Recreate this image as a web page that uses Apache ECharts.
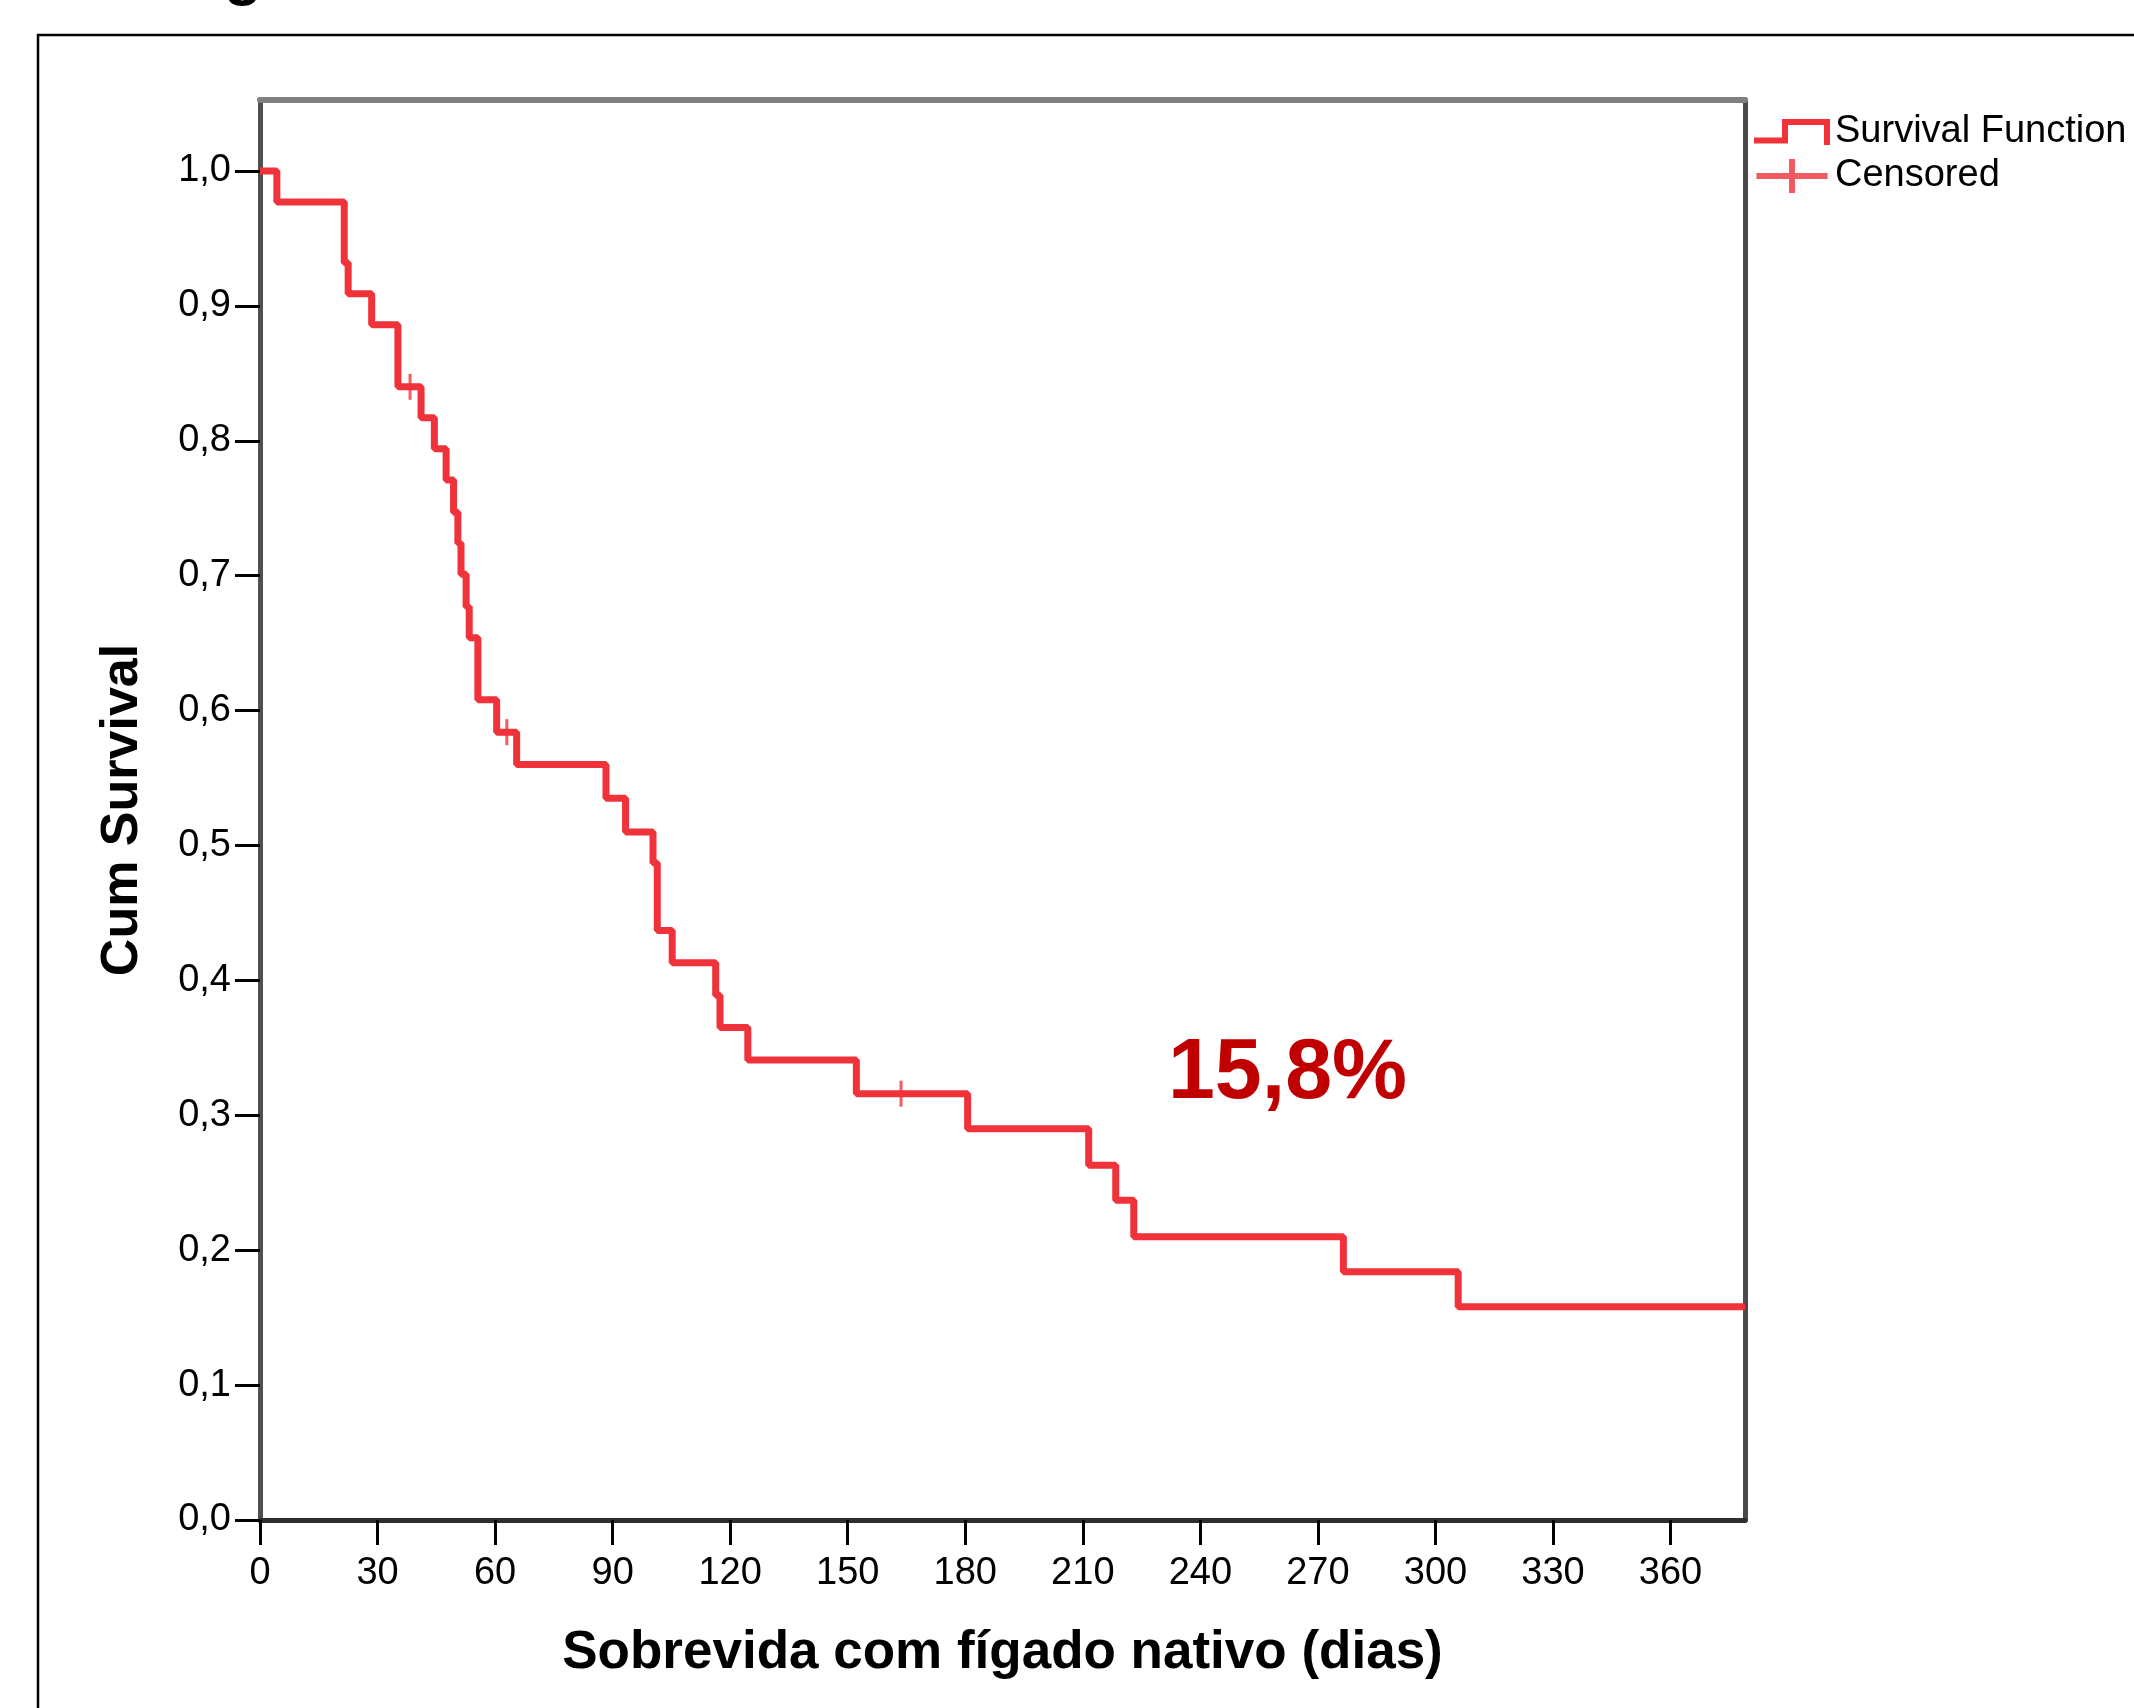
<!DOCTYPE html>
<html>
<head>
<meta charset="utf-8">
<script src="https://cdn.jsdelivr.net/npm/echarts@6/dist/echarts.min.js"></script>
<style>
  html, body { margin: 0; padding: 0; background: #ffffff; }
  #chart { width: 2134px; height: 1708px; }
</style>
</head>
<body>
<div id="chart"></div>
<script>
// ---- Data (Kaplan-Meier step function) ----
const eventDays = [0, 4.3, 21.5, 22.5, 28.5, 35.2, 41.1, 44.5, 47.5, 49.4, 50.5, 51.3, 52.6, 53.4, 55.6, 60.4, 65.5, 88.3, 93.3, 100.3, 101.4, 105.2, 116.3, 117.4, 124.5, 152.2, 180.6, 211.5, 218.4, 223.0, 276.5, 305.8, 379];
const survivalValues = [1.0, 0.977, 0.932, 0.909, 0.886, 0.840, 0.817, 0.794, 0.771, 0.747, 0.724, 0.701, 0.677, 0.654, 0.608, 0.584, 0.560, 0.535, 0.510, 0.487, 0.437, 0.413, 0.389, 0.365, 0.341, 0.316, 0.290, 0.263, 0.237, 0.210, 0.184, 0.158, 0.158];
const censorDays = [38.3, 63.0, 163.6];
const censorValues = [0.840, 0.584, 0.316];

const xTickValues = [0, 30, 60, 90, 120, 150, 180, 210, 240, 270, 300, 330, 360];
const xTickLabels = ['0', '30', '60', '90', '120', '150', '180', '210', '240', '270', '300', '330', '360'];
const yTickValues = [0, 0.1, 0.2, 0.3, 0.4, 0.5, 0.6, 0.7, 0.8, 0.9, 1.0];
const yTickLabels = ['0,0', '0,1', '0,2', '0,3', '0,4', '0,5', '0,6', '0,7', '0,8', '0,9', '1,0'];

const seriesNames = ['Survival Function', 'Censored'];
const annotationText = '15,8%';
const xTitle = 'Sobrevida com fígado nativo (dias)';
const yTitle = 'Cum Survival';

// ---- Chart ----
const FONT = '"Liberation Sans", Arial, sans-serif';
const RED = '#f0323a';
const chart = echarts.init(document.getElementById('chart'), null, { renderer: 'canvas' });

const survivalData = eventDays.map((d, i) => [d, survivalValues[i]]);
const censorData = censorDays.map((d, i) => [d, censorValues[i]]);

function labelFor(values, labels) {
  return function (v) {
    for (let i = 0; i < values.length; i++) {
      if (Math.abs(values[i] - v) < 1e-6) return labels[i];
    }
    return '';
  };
}

chart.setOption({
  animation: false,
  backgroundColor: '#ffffff',
  grid: { left: 260, right: 389, top: 100, bottom: 188, containLabel: false, show: false },
  legend: {
    orient: 'vertical',
    left: 1754,
    top: 110,
    padding: 0,
    itemGap: 0,
    itemWidth: 76,
    itemHeight: 34,
    selectedMode: false,
    textStyle: { fontFamily: FONT, fontSize: 38, color: '#000', lineHeight: 44, padding: [0, 0, 0, 0] },
    data: [
      { name: seriesNames[0], icon: 'path://M0,18.5 H28 V0 H76 V26 H70 V6 H34 V24.5 H0 Z' },
      { name: seriesNames[1], icon: 'path://M0,14 H71 V20 H0 Z M32.5,0 H38.5 V34 H32.5 Z' }
    ]
  },
  xAxis: [
    {
      type: 'value',
      min: 0,
      max: 379,
      position: 'bottom',
      name: xTitle,
      nameLocation: 'middle',
      nameGap: 107,
      nameTextStyle: { fontFamily: FONT, fontSize: 53, fontWeight: 'bold', color: '#000' },
      axisLine: { show: true, onZero: false, lineStyle: { color: '#2e2e2e', width: 5 } },
      axisTick: { show: true, inside: false, length: 25, customValues: xTickValues, lineStyle: { color: '#000', width: 3 } },
      axisLabel: {
        show: true, margin: 35, customValues: xTickValues,
        fontFamily: FONT, fontSize: 38, color: '#000',
        formatter: labelFor(xTickValues, xTickLabels)
      },
      splitLine: { show: false }
    },
    {
      type: 'value',
      min: 0,
      max: 379,
      position: 'top',
      axisLine: { show: true, onZero: false, lineStyle: { color: '#808080', width: 6 } },
      axisTick: { show: false },
      axisLabel: { show: false },
      splitLine: { show: false }
    }
  ],
  yAxis: [
    {
      type: 'value',
      min: 0,
      max: 1.0526,
      position: 'left',
      name: yTitle,
      nameLocation: 'middle',
      nameGap: 111,
      nameRotate: 90,
      nameTextStyle: { fontFamily: FONT, fontSize: 52, fontWeight: 'bold', color: '#000' },
      axisLine: { show: true, onZero: false, lineStyle: { color: '#505050', width: 5 } },
      axisTick: { show: true, inside: false, length: 25, customValues: yTickValues, lineStyle: { color: '#000', width: 3 } },
      axisLabel: {
        show: true, margin: 29, customValues: yTickValues,
        fontFamily: FONT, fontSize: 38, color: '#000',
        padding: [10, 0, 0, 0],
        formatter: labelFor(yTickValues, yTickLabels)
      },
      splitLine: { show: false }
    },
    {
      type: 'value',
      min: 0,
      max: 1.0526,
      position: 'right',
      axisLine: { show: true, onZero: false, lineStyle: { color: '#4a4a4a', width: 5 } },
      axisTick: { show: false },
      axisLabel: { show: false },
      splitLine: { show: false }
    }
  ],
  series: [
    {
      name: seriesNames[0],
      type: 'line',
      step: 'end',
      xAxisIndex: 0,
      yAxisIndex: 0,
      data: survivalData,
      showSymbol: false,
      symbol: 'none',
      color: RED,
      lineStyle: { color: RED, width: 7 },
      z: 3
    },
    {
      name: seriesNames[1],
      type: 'scatter',
      xAxisIndex: 0,
      yAxisIndex: 0,
      data: censorData,
      symbol: 'rect',
      symbolSize: [3, 26],
      color: RED,
      itemStyle: { color: RED },
      z: 4
    }
  ],
  graphic: [
    {
      type: 'rect',
      shape: { x: 38, y: 35, width: 2300, height: 1900 },
      style: { fill: 'none', stroke: '#000', lineWidth: 2.5 },
      silent: true,
      z: 0
    },
    {
      type: 'text',
      x: 243,
      y: 7,
      style: { text: 'g', font: 'bold 62px ' + FONT, fill: '#000', align: 'center', verticalAlign: 'bottom' },
      silent: true
    },
    {
      type: 'text',
      x: 1168,
      y: 1074,
      scaleX: 0.98,
      style: { text: annotationText, font: 'bold 86px ' + FONT, fill: '#c00000', align: 'left', verticalAlign: 'middle' },
      silent: true,
      z: 10
    }
  ]
});
</script>
</body>
</html>
